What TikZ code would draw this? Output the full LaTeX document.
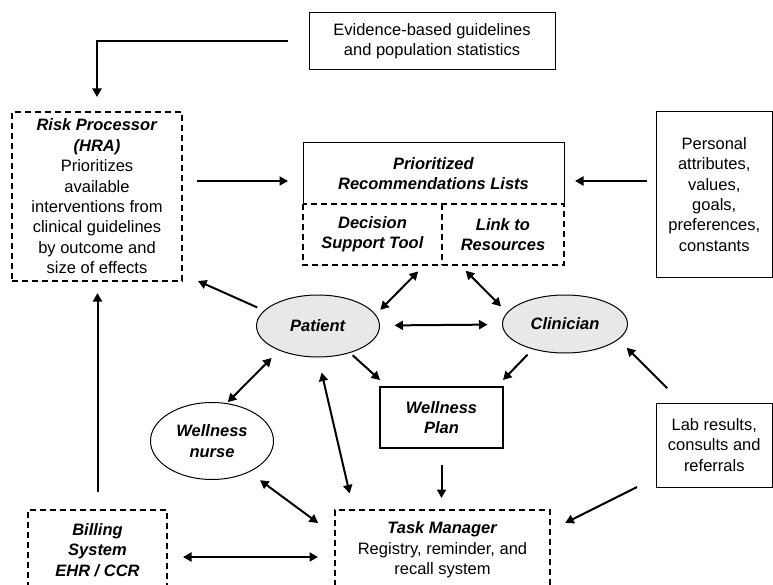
\documentclass[tikz,border=0pt]{standalone}
\usepackage{fontspec}
\setmainfont{Liberation Sans}
\usetikzlibrary{arrows.meta,shapes.geometric,positioning}
\newcommand{\bitext}[1]{\textbf{\textit{#1}}}

\begin{document}
\begin{tikzpicture}[x=1pt,y=-1pt,
    every node/.style = {font=\fontsize{16.5}{20.4}\selectfont,
      align=center, inner sep=0pt, outer sep=0pt},
    box/.style  = {draw, line width=1pt, rectangle},
    dbox/.style = {box, line width=1.2pt, dash pattern=on 6pt off 4pt},
    blob/.style = {draw, line width=1pt, ellipse},
    conn/.style = {line width=2pt, -{Triangle[length=8.5pt,width=9pt]}},
    both/.style = {conn, {Triangle[length=8.5pt,width=9pt]}-{Triangle[length=8.5pt,width=9pt]}}]
  \useasboundingbox (0,0) rectangle (773,585);
  \clip (0,0) rectangle (773,585);

  \node (Evid) [box, minimum width=246pt, minimum height=57pt] at (432,41.5)
    {Evidence-based guidelines\\and population statistics};
  \node (Risk) [dbox, minimum width=170pt, minimum height=169pt] at (97,196.5)
    {\bitext{Risk Processor}\\\bitext{(HRA)}\\Prioritizes\\available\\interventions from\\clinical guidelines\\by outcome and\\size of effects};
  \node (Prio) [minimum width=261pt, minimum height=61pt] at (433.5,173.5)
    {\bitext{Prioritized}\\\bitext{Recommendations Lists}};
  \node (DST) [minimum width=139pt, minimum height=61pt, below right=0pt of Prio.south west]
    {\bitext{Decision}\\\bitext{Support Tool}};
  \node (Link) [minimum width=122pt, minimum height=61pt, right=0pt of DST]
    {\bitext{Link to}\\\bitext{Resources}};
  \node (Pers) [box, minimum width=116.5pt, minimum height=165pt] at (714.25,194.5)
    {Personal\\attributes,\\values,\\goals,\\preferences,\\constants};
  \node (Pat) [blob, fill=gray!18, minimum width=123pt, minimum height=62pt] at (318,326)
    {\bitext{Patient}};
  \node (Clin) [blob, fill=gray!18, minimum width=125pt, minimum height=58pt] at (565,324)
    {\bitext{Clinician}};
  \node (Nurse) [blob, fill=white, minimum width=123pt, minimum height=77pt] at (212,441)
    {\bitext{Wellness}\\\bitext{nurse}};
  \node (Plan) [box, line width=2.6pt, minimum width=123pt, minimum height=61pt] at (441.5,417.5)
    {\bitext{Wellness}\\\bitext{Plan}};
  \node (Lab) [box, minimum width=116.5pt, minimum height=84pt] at (714.25,445)
    {Lab results,\\consults and\\referrals};
  \node (Task) [dbox, minimum width=215pt, minimum height=80pt] at (442.5,550)
    {\bitext{Task Manager}\\Registry, reminder, and\\recall system};
  \node (Bill) [dbox, minimum width=139pt, minimum height=80pt] at (97.5,550)
    {\bitext{Billing}\\\bitext{System}\\\bitext{EHR / CCR}};

  \draw[line width=1pt] (Prio.south west) |- (Prio.north east) -- (Prio.south east);
  \draw[line width=1.2pt, dash pattern=on 6pt off 4pt] (DST.north west) rectangle (Link.south east);
  \draw[line width=1.2pt, dash pattern=on 6pt off 4pt] (DST.north east) -- (DST.south east);

  \draw[conn, shorten <=21pt, shorten >=15pt] (Evid.west) -| (Risk.north);
  \draw[conn, shorten <=15pt, shorten >=15pt] ([yshift=15.5pt]Risk.east) -- ([yshift=-7.5pt]Prio.west);
  \draw[conn, shorten <=9pt, shorten >=11pt] ([yshift=13.5pt]Pers.west) -- ([yshift=-7.5pt]Prio.east);
  \draw[conn, shorten <=8pt] (Pat.164) -- ([xshift=16pt]Risk.south east);
  \draw[both, shorten <=7pt, shorten >=9pt] (Pat.11) -- ([xshift=52pt]DST.south);
  \draw[both, shorten <=8pt, shorten >=9pt] ([xshift=-43pt]Link.south) -- (Clin.169);
  \draw[both, shorten <=15pt, shorten >=15pt] (Pat) -- (Clin);
  \draw[conn, shorten <=4pt] (Pat.-40) -- ([yshift=7pt]Plan.north west);
  \draw[conn, shorten <=8pt] (Clin.218) -- ([yshift=7pt]Plan.north east);
  \draw[both, shorten <=11pt, shorten >=2pt] (Pat.212) -- (Nurse.69);
  \draw[both, shorten <=16pt, shorten >=17pt] (Pat.south) -- ([xshift=-89pt]Task.north);
  \draw[both, shorten <=14pt, shorten >=21pt] (Nurse.-40) -- ([yshift=14.5pt]Task.west);
  \draw[conn, shorten <=17pt, shorten >=12pt] (Plan.south) -- (Plan.south |- Task.north);
  \draw[conn, shorten <=21pt, shorten >=12pt] ([xshift=26pt]Lab.north west) -- (Clin.-16);
  \draw[conn, shorten >=17pt] ([xshift=-19pt]Lab.south west) -- ([yshift=19.5pt]Task.east);
  \draw[both, shorten <=16pt, shorten >=17pt] ([yshift=-7pt]Bill.east) -- ([yshift=-7pt]Task.west);
  \draw[conn, shorten <=18pt, shorten >=12pt] (Bill.north) -- (Bill.north |- Risk.south);
\end{tikzpicture}
\end{document}
